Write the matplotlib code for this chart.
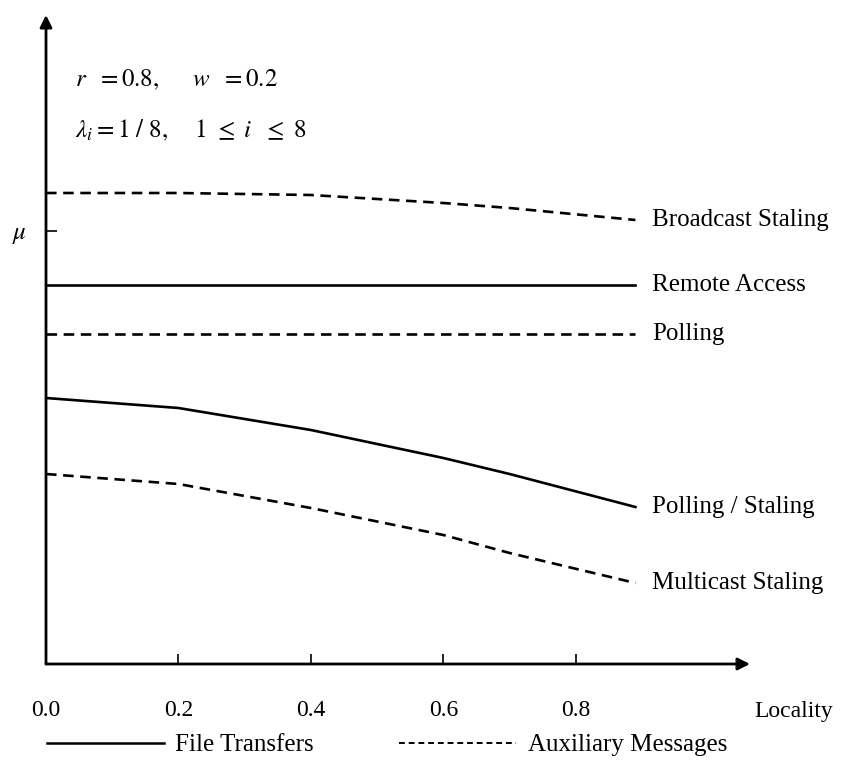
import matplotlib
matplotlib.use('Agg')
import matplotlib.pyplot as plt

plt.rcParams['font.family'] = ['Liberation Serif', 'DejaVu Serif']
plt.rcParams['mathtext.fontset'] = 'stix'

# locality values
locality = [0.0, 0.2, 0.4, 0.6, 0.7, 0.89]

# heights are in arbitrary units (no scale on the y axis)
broadcast_staling = [4.71, 4.71, 4.69, 4.61, 4.56, 4.44]
remote_access = [3.79, 3.79, 3.79, 3.79, 3.79, 3.79]
polling = [3.30, 3.30, 3.30, 3.30, 3.30, 3.30]
polling_staling = [2.66, 2.56, 2.34, 2.06, 1.90, 1.57]
multicast_staling = [1.90, 1.80, 1.56, 1.29, 1.11, 0.81]

curve_names = ['Broadcast Staling', 'Remote Access', 'Polling',
               'Polling / Staling', 'Multicast Staling']
curve_styles = ['dashed', 'solid', 'dashed', 'solid', 'dashed']

x_ticks = [0.0, 0.2, 0.4, 0.6, 0.8]
x_tick_labels = ['0.0', '0.2', '0.4', '0.6', '0.8']
mu_level = 4.33


def main():
    fig = plt.figure(figsize=(8.48, 7.61), dpi=100)
    ax = fig.add_axes([46 / 848, 97 / 761, 704 / 848, 649 / 761])
    ax.set_xlim(0, 1.063)
    ax.set_ylim(0, 6.49)

    curves = [broadcast_staling, remote_access, polling,
              polling_staling, multicast_staling]
    for ys, name, style in zip(curves, curve_names, curve_styles):
        if style == 'dashed':
            ax.plot(locality, ys, color='black', lw=1.9, dashes=(4, 2.5))
        else:
            ax.plot(locality, ys, color='black', lw=1.9)
        ax.annotate(name, (locality[-1], ys[-1]), xytext=(12, 0),
                    textcoords='offset points', va='center', ha='left',
                    fontsize=18)

    # axes as arrows
    for s in ax.spines.values():
        s.set_visible(False)
    ax.annotate('', xy=(1.063, 0), xytext=(0, 0),
                arrowprops=dict(arrowstyle='-|>', color='black', lw=2,
                                mutation_scale=18, shrinkA=0, shrinkB=0),
                annotation_clip=False)
    ax.annotate('', xy=(0, 6.49), xytext=(0, 0),
                arrowprops=dict(arrowstyle='-|>', color='black', lw=2,
                                mutation_scale=18, shrinkA=0, shrinkB=0),
                annotation_clip=False)

    ax.set_xticks(x_ticks)
    ax.set_xticklabels(x_tick_labels, fontsize=17)
    ax.tick_params(axis='x', direction='in', length=7, width=1.2, pad=26)
    ax.set_yticks([mu_level])
    ax.set_yticklabels([r'$\mu$'], fontsize=18)
    ax.tick_params(axis='y', direction='in', length=8, width=1.2, pad=14)

    fig.text(794 / 848, 1 - 712 / 761, 'Locality', fontsize=17,
             ha='center', va='center')

    fig.text(75 / 848, 1 - 80 / 761,
             r'$r\ \ =0.8,\ \ \ \ \ w\ \ =0.2$',
             fontsize=18, va='center')
    fig.text(75 / 848, 1 - 130 / 761,
             r'$\lambda_i=1\ /\ 8,\ \ \ \ 1\ \leq\ i\ \ \leq\ 8$',
             fontsize=18, va='center')

    fig.legend(handles=[
        plt.Line2D([], [], color='black', lw=1.8),
        plt.Line2D([], [], color='black', lw=1.4, dashes=(3, 2)),
    ], labels=['File Transfers', 'Auxiliary Messages'],
        loc='center left', bbox_to_anchor=(24 / 848, 1 - 745 / 761),
        ncol=2, frameon=False, fontsize=18, handlelength=4.7,
        columnspacing=3.4, handletextpad=0.45)

    fig.savefig('out.png', dpi=100)


if __name__ == "__main__":
    main()
